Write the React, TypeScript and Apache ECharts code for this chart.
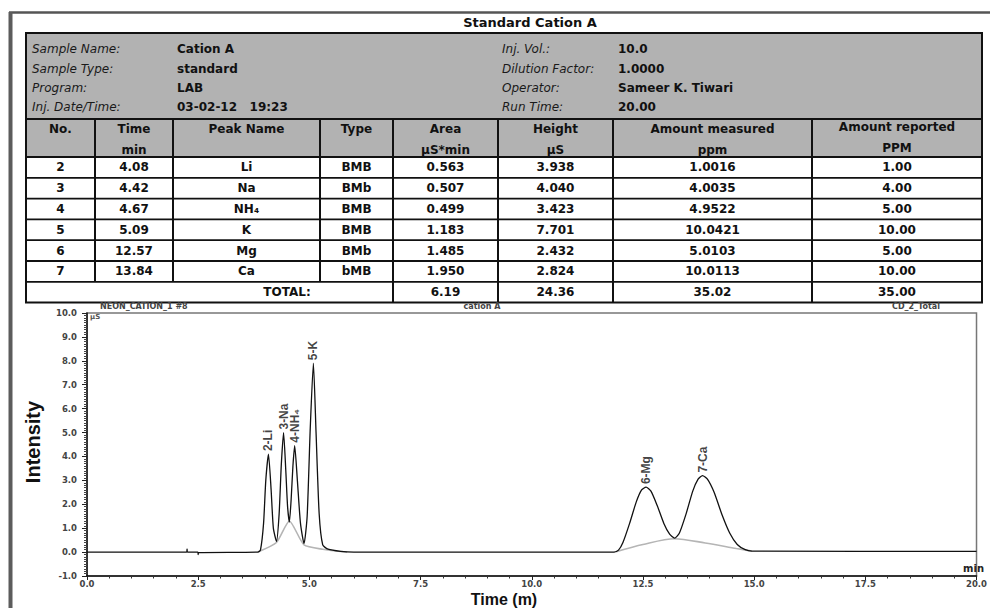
import { useEffect, useRef } from "react";
import * as echarts from "echarts";

// ---- Report header ----
const reportTitle = "Standard Cation A";
const infoLabelsLeft = ["Sample Name:", "Sample Type:", "Program:", "Inj. Date/Time:"];
const infoValuesLeft = ["Cation A", "standard", "LAB", "03-02-12   19:23"];
const infoLabelsRight = ["Inj. Vol.:", "Dilution Factor:", "Operator:", "Run Time:"];
const infoValuesRight = ["10.0", "1.0000", "Sameer K. Tiwari", "20.00"];

// ---- Peak table ----
const headerNames = ["No.", "Time", "Peak Name", "Type", "Area", "Height", "Amount measured", "Amount reported"];
const headerUnits = ["", "min", "", "", "µS*min", "µS", "ppm", "PPM"];
const peakNo = [2, 3, 4, 5, 6, 7];
const retTime = [4.08, 4.42, 4.67, 5.09, 12.57, 13.84];
const peakName = ["Li", "Na", "NH₄", "K", "Mg", "Ca"];
const peakType = ["BMB", "BMb", "BMB", "BMB", "BMb", "bMB"];
const peakArea = [0.563, 0.507, 0.499, 1.183, 1.485, 1.95];
const peakHeight = [3.938, 4.04, 3.423, 7.701, 2.432, 2.824];
const amountMeasured = [1.0016, 4.0035, 4.9522, 10.0421, 5.0103, 10.0113];
const amountReported = [1.0, 4.0, 5.0, 10.0, 5.0, 10.0];

// ---- Chromatogram (time in min, signal in µS) ----
const signal: [number, number][] = [
  [0, 0], [2.24, 0], [2.25, 0.12], [2.26, 0], [2.49, 0], [2.5, -0.1], [2.51, -0.02],
  [3.84, 0], [3.9, 0.08], [3.97, 1.2], [4.02, 3.0], [4.08, 4.1], [4.14, 2.6], [4.19, 1.0],
  [4.26, 0.45], [4.32, 1.6], [4.37, 3.7], [4.42, 5.0], [4.47, 3.4], [4.51, 1.9],
  [4.55, 1.25], [4.59, 2.2], [4.63, 3.6], [4.67, 4.45], [4.73, 3.0], [4.8, 1.2],
  [4.88, 0.35], [4.95, 1.5], [5.02, 5.2], [5.09, 7.9], [5.15, 5.0], [5.22, 1.6],
  [5.3, 0.3], [5.42, 0.12], [5.7, 0.03], [6.0, 0],
  [11.85, 0], [11.95, 0.08], [12.05, 0.4], [12.2, 1.2], [12.35, 2.1], [12.47, 2.6],
  [12.57, 2.72], [12.68, 2.55], [12.82, 1.95], [12.97, 1.2], [13.1, 0.75], [13.21, 0.58],
  [13.32, 0.8], [13.47, 1.6], [13.62, 2.55], [13.74, 3.05], [13.84, 3.2], [13.95, 3.05],
  [14.1, 2.5], [14.28, 1.55], [14.45, 0.8], [14.62, 0.32], [14.8, 0.1], [14.95, 0.04],
  [20, 0.03],
];
// Integration baselines under the fused peak groups
const skimEarly: [number, number][] = [
  [3.84, 0], [4.26, 0.4], [4.55, 1.3], [4.88, 0.3], [5.3, 0.12], [5.85, 0],
];
const skimLate: [number, number][] = [
  [11.9, 0.02], [12.5, 0.32], [13.21, 0.56], [13.9, 0.38], [14.6, 0.15], [14.95, 0.04],
];
const apexSignal = [4.1, 5.0, 4.45, 7.9, 2.72, 3.2];

const traceName = "NEON_CATION_1 #8";
const sampleTag = "cation A";
const channelName = "CD_2_Total";
const signalUnit = "µS";
const timeUnit = "min";

// ---- Layout ----
const W = 990;
const H = 608;
const COLS = [26, 95, 173, 320, 393, 498, 613, 812, 982];
const INFO_TOP = 33;
const HEAD_TOP = 119;
const BODY_TOP = 157;
const ROW_H = 20.8;
const INFO_ROW_Y = [49, 68.5, 87.5, 107];
const TABLE_FONT = "DejaVu Sans";
const NARROW = '"Liberation Sans", Arial, sans-serif';

function txt(
  x: number,
  y: number,
  text: string,
  opts: {
    size?: number;
    weight?: string;
    style?: string;
    align?: string;
    family?: string;
    color?: string;
    rotation?: number;
  } = {}
) {
  const align = opts.align || "center";
  return {
    type: "text",
    x,
    y,
    rotation: opts.rotation || 0,
    silent: true,
    style: {
      text,
      x: 0,
      y: 0,
      fill: opts.color || "#111",
      fontSize: opts.size || 12,
      fontWeight: opts.weight || "bold",
      fontStyle: opts.style || "normal",
      fontFamily: opts.family || TABLE_FONT,
      align,
      textAlign: align,
      verticalAlign: "middle",
      textVerticalAlign: "middle",
    },
  };
}

function line(x1: number, y1: number, x2: number, y2: number, width = 1.5, color = "#111") {
  return { type: "line", silent: true, shape: { x1, y1, x2, y2 }, style: { stroke: color, lineWidth: width } };
}

function buildGraphics() {
  const els: any[] = [];
  const left = COLS[0];
  const right = COLS[COLS.length - 1];
  const nRows = peakNo.length;
  const totalTop = BODY_TOP + nRows * ROW_H;
  const tableBottom = totalTop + ROW_H;

  // page frame
  els.push(line(9, 12.5, W, 12.5, 2.5, "#555"));
  els.push(line(10.5, 12, 10.5, H, 4, "#5c5c5c"));

  els.push(txt(530, 22.5, reportTitle, { size: 13 }));

  // info block
  els.push({
    type: "rect",
    silent: true,
    shape: { x: left, y: INFO_TOP, width: right - left, height: HEAD_TOP - INFO_TOP },
    style: { fill: "#b2b2b2", stroke: "#111", lineWidth: 2 },
  });
  INFO_ROW_Y.forEach((y, i) => {
    els.push(txt(32, y, infoLabelsLeft[i], { size: 12, weight: "normal", style: "italic", align: "left", color: "#1a1a1a" }));
    els.push(txt(177, y, infoValuesLeft[i], { size: 12, align: "left" }));
    els.push(txt(502, y, infoLabelsRight[i], { size: 12, weight: "normal", style: "italic", align: "left", color: "#1a1a1a" }));
    els.push(txt(618, y, infoValuesRight[i], { size: 12, align: "left" }));
  });

  // header row
  els.push({
    type: "rect",
    silent: true,
    shape: { x: left, y: HEAD_TOP, width: right - left, height: BODY_TOP - HEAD_TOP },
    style: { fill: "#b2b2b2", stroke: "#111", lineWidth: 2 },
  });
  // body
  els.push({
    type: "rect",
    silent: true,
    shape: { x: left, y: BODY_TOP, width: right - left, height: tableBottom - BODY_TOP },
    style: { fill: "#fff", stroke: "#111", lineWidth: 2 },
  });
  for (let c = 1; c < COLS.length - 1; c++) {
    const bottom = c < 4 ? totalTop : tableBottom;
    els.push(line(COLS[c], HEAD_TOP, COLS[c], bottom, 2));
  }
  for (let r = 1; r <= nRows; r++) {
    els.push(line(left, BODY_TOP + r * ROW_H, right, BODY_TOP + r * ROW_H, 1.8));
  }

  const mid = (c: number) => (COLS[c] + COLS[c + 1]) / 2;
  headerNames.forEach((h, c) => {
    const y1 = c === 7 ? 127 : 129;
    els.push(txt(mid(c), y1, h, { size: 12 }));
    if (headerUnits[c]) els.push(txt(mid(c), c === 7 ? 148 : 150, headerUnits[c], { size: 12 }));
  });

  peakNo.forEach((no, r) => {
    const y = BODY_TOP + r * ROW_H + ROW_H / 2;
    const cells = [
      String(no),
      retTime[r].toFixed(2),
      peakName[r],
      peakType[r],
      peakArea[r].toFixed(3),
      peakHeight[r].toFixed(3),
      amountMeasured[r].toFixed(4),
      amountReported[r].toFixed(2),
    ];
    cells.forEach((t, c) => els.push(txt(mid(c), y, t, { size: 12 })));
  });

  const sum = (a: number[]) => a.reduce((s, v) => s + v, 0);
  const yT = totalTop + ROW_H / 2;
  els.push(txt(287, yT, "TOTAL:", { size: 12 }));
  els.push(txt(mid(4), yT, sum(peakArea).toFixed(2), { size: 12 }));
  els.push(txt(mid(5), yT, sum(peakHeight).toFixed(2), { size: 12 }));
  els.push(txt(mid(6), yT, sum(amountMeasured).toFixed(2), { size: 12 }));
  els.push(txt(mid(7), yT, sum(amountReported).toFixed(2), { size: 12 }));

  // chromatogram captions
  els.push(txt(100, 306.5, traceName, { size: 8, align: "left", color: "#444" }));
  els.push(txt(482, 306.5, sampleTag, { size: 8, color: "#444" }));
  els.push(txt(916, 306.5, channelName, { size: 8, color: "#444" }));
  els.push(txt(90, 317, signalUnit, { size: 7, align: "left", color: "#555" }));
  els.push(txt(984, 568, timeUnit, { size: 10, align: "right", color: "#222" }));

  // axis titles
  els.push(txt(33, 442, "Intensity", { size: 20, family: NARROW, rotation: Math.PI / 2, color: "#111" }));
  els.push(txt(504, 599.5, "Time (m)", { size: 16, family: NARROW, color: "#111" }));

  return els;
}

export default function App() {
  const ref = useRef<HTMLDivElement>(null);

  useEffect(() => {
    if (!ref.current) return;
    const chart = echarts.init(ref.current, undefined, { renderer: "svg" });
    const tickLabel = {
      fontSize: 8.5,
      fontWeight: "bold" as const,
      fontFamily: TABLE_FONT,
      color: "#444",
      formatter: (v: number) => v.toFixed(1),
    };
    chart.setOption({
      animation: false,
      backgroundColor: "#fff",
      grid: {
        left: 87,
        right: 7,
        top: 313,
        bottom: 32,
        show: true,
        borderColor: "#777",
        borderWidth: 1.5,
        backgroundColor: "transparent",
      },
      xAxis: {
        type: "value",
        min: 0,
        max: 20,
        interval: 2.5,
        axisLine: { show: true, onZero: false, lineStyle: { color: "#111", width: 1.5 } },
        axisTick: { show: true, length: 4, lineStyle: { color: "#222" } },
        minorTick: { show: true, splitNumber: 5, length: 2.5, lineStyle: { color: "#333" } },
        splitLine: { show: false },
        axisLabel: { ...tickLabel, margin: 3 },
      },
      yAxis: {
        type: "value",
        min: -1,
        max: 10,
        interval: 1,
        axisLine: { show: true, onZero: false, lineStyle: { color: "#111", width: 1.5 } },
        axisTick: { show: true, length: 5, lineStyle: { color: "#222" } },
        minorTick: { show: true, splitNumber: 10, length: 3, lineStyle: { color: "#444" } },
        splitLine: { show: false },
        axisLabel: { ...tickLabel, margin: 10 },
      },
      series: [
        {
          type: "line",
          data: skimEarly,
          symbol: "none",
          smooth: 0.2,
          lineStyle: { color: "#b5b5b5", width: 1.6 },
          z: 1,
        },
        {
          type: "line",
          data: skimLate,
          symbol: "none",
          smooth: 0.3,
          lineStyle: { color: "#b5b5b5", width: 1.6 },
          z: 1,
        },
        {
          type: "line",
          data: signal,
          symbol: "none",
          smooth: 0.2,
          lineStyle: { color: "#111", width: 1.3 },
          z: 2,
        },
        {
          type: "scatter",
          data: retTime.map((t, i) => [t, apexSignal[i]]),
          symbolSize: 0,
          z: 3,
          label: {
            show: true,
            position: "top",
            distance: 3,
            rotate: 90,
            align: "left",
            verticalAlign: "middle",
            fontSize: 12,
            fontWeight: "bold",
            fontFamily: NARROW,
            color: "#111",
            formatter: (p: any) => `${peakNo[p.dataIndex]}-${peakName[p.dataIndex]}`,
          },
        },
      ],
      graphic: buildGraphics(),
    });
    return () => chart.dispose();
  }, []);

  return (
    <div
      ref={ref}
      style={{ position: "absolute", left: 0, top: 0, width: W, height: H, background: "#fff" }}
    />
  );
}
